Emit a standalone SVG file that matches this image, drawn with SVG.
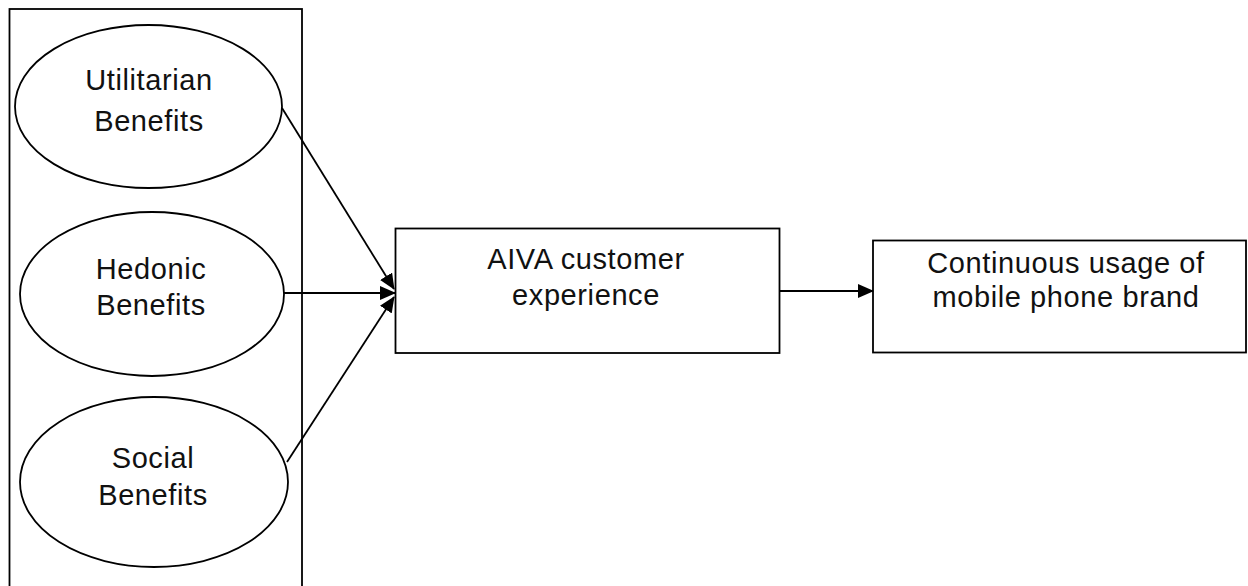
<svg xmlns="http://www.w3.org/2000/svg" width="1248" height="586" viewBox="0 0 1248 586">
  <style>
    .shape { fill: #ffffff; stroke: #000000; stroke-width: 1.8; }
    .link { fill: none; stroke: #000000; stroke-width: 1.8; }
    .label { font-family: "Liberation Sans", Arial, sans-serif; font-size: 29px; fill: #111111; text-anchor: middle; letter-spacing: 0.6px; }
  </style>
  <defs>
    <marker id="arrow" markerWidth="16" markerHeight="14" refX="15" refY="7" orient="auto" markerUnits="userSpaceOnUse">
      <path d="M0,0 L16,7 L0,14 Z" fill="#000000"/>
    </marker>
  </defs>

  <rect x="0" y="0" width="1248" height="586" fill="#ffffff"/>

  <!-- frame holding the three benefit constructs -->
  <g id="benefits-frame">
    <rect class="shape" x="9.5" y="9" width="292.5" height="600"/>
  </g>

  <g id="utilitarian">
    <ellipse class="shape" cx="148.5" cy="106.5" rx="133.5" ry="81.5"/>
    <text class="label" x="149" y="90">Utilitarian</text>
    <text class="label" x="149" y="131">Benefits</text>
  </g>

  <g id="hedonic">
    <ellipse class="shape" cx="152" cy="294" rx="132" ry="82"/>
    <text class="label" x="151" y="279">Hedonic</text>
    <text class="label" x="151" y="315">Benefits</text>
  </g>

  <g id="social">
    <ellipse class="shape" cx="154" cy="482" rx="134" ry="85"/>
    <text class="label" x="153" y="468">Social</text>
    <text class="label" x="153" y="505">Benefits</text>
  </g>

  <g id="aiva-experience">
    <rect class="shape" x="395.5" y="228.5" width="384" height="124.5"/>
    <text class="label" x="586" y="269">AIVA customer</text>
    <text class="label" x="586" y="305">experience</text>
  </g>

  <g id="continuous-usage">
    <rect class="shape" x="873" y="240.5" width="373" height="112"/>
    <text class="label" x="1066" y="273">Continuous usage of</text>
    <text class="label" x="1066" y="307">mobile phone brand</text>
  </g>

  <g id="connectors">
    <line class="link" x1="282" y1="108" x2="394" y2="289" marker-end="url(#arrow)"/>
    <line class="link" x1="284" y1="293" x2="395" y2="293" marker-end="url(#arrow)"/>
    <line class="link" x1="287" y1="462" x2="394" y2="297" marker-end="url(#arrow)"/>
    <line class="link" x1="779.5" y1="291" x2="873" y2="291" marker-end="url(#arrow)"/>
  </g>
</svg>
